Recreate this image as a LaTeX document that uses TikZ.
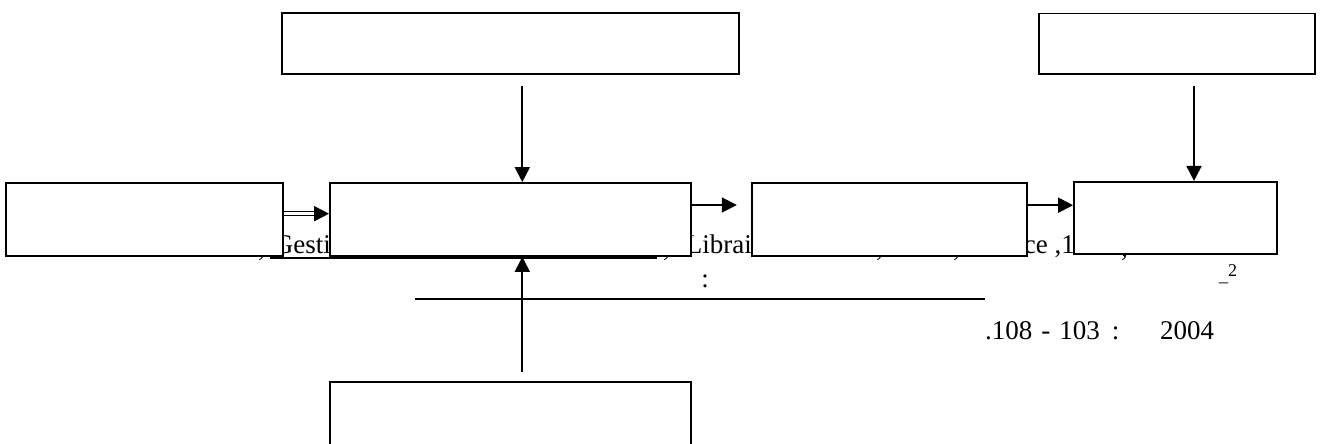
\documentclass[tikz,border=0pt]{standalone}
\usepackage{fontspec}
\setmainfont{Liberation Serif}
\usetikzlibrary{arrows.meta, calc, positioning}
\tikzset{
  % Graph arrow style
  garr/.style={
    line width = 1.8pt
  },
  % text left over behind the boxes
  frag/.style={
    inner sep=0pt
    , font=\fontsize{27}{31}\selectfont
  },
}
\tikzset{
  %box node style
  blk/.style={
    draw
    , fill=white
    , line width=1.8pt
    , anchor=center
    , inner sep=0pt
    %, rounded corners
  },
}
\begin{document}
\begin{tikzpicture}[x=1pt,y=1pt,>={Triangle[length=15pt,width=15pt]}]
      \clip (0,0) rectangle (1320,444);

      % text first, the boxes hide part of it
      \node[frag, anchor=base west] (c1) at (258,187.5) {,};
      \node[frag, anchor=base east] (ges) at (331,190.5) {Gesti};
      \draw[line width=2pt] (270,186) -- (657,186);
      \node[frag, anchor=base west] (c2) at (663,187.5) {,};
      \node[frag, anchor=base east] (lib) at (752,190.5) {Librai};
      \node[frag, anchor=base west] (c3) at (876,187.5) {,};
      \node[frag, anchor=base west] (c4) at (953,187.5) {,};
      \node[frag, anchor=base east] (fra) at (1075,190.5) {ce ,1};
      \node[frag, anchor=base west] (c5) at (1121,187.5) {,};
      \node[inner sep=0pt, anchor=base west, font=\fontsize{18}{20}\selectfont] (ref) at (1219,162) {\_\raisebox{5pt}{2}};
      \node[frag, anchor=base] (col) at (705,156) {:};
      \node[frag, anchor=base west] (pg) at (985,104) {.108\hspace{9pt}-\hspace{9pt}103\hspace{12pt}:};
      \node[frag, anchor=base west] (yr) at (1160,104) {2004};

      \node[blk, minimum width=360.7pt, minimum height=73pt] (ctr) at (510.3,224.5) {};
      \node[blk, minimum width=277.3pt, minimum height=73pt, left of=ctr, node distance=366pt] (lft) {};
      \node[blk, minimum width=275pt, minimum height=72.7pt, right of=ctr, node distance=378.9pt] (mid) {};
      \node[blk, minimum width=203pt, minimum height=72.3pt, right of=mid, node distance=286.3pt, yshift=1.5pt] (rgt) {};
      \node[blk, minimum width=457.3pt, minimum height=60.7pt, above of=ctr, node distance=175.8pt] (topa) {};
      \node[blk, minimum width=276pt, minimum height=60.7pt, above of=rgt, node distance=174.1pt, xshift=1.5pt] (topb) {};
      \node[blk, minimum width=361.4pt, minimum height=73pt, below of=ctr, node distance=199pt] (bot) {};

      \draw[garr] (415,145) -- (985,145);

      \draw[garr, double, double distance=2.6pt, line width=1.4pt, shorten >=14pt] ([yshift=5.8pt]lft.east) -- ([yshift=5.8pt]ctr.west);
      \draw[garr,->] ([xshift=-15pt,yshift=5.8pt]ctr.west) -- ([yshift=5.8pt]ctr.west);

      \draw[garr,->,shorten >=14pt] ([yshift=14.5pt]ctr.east) -- ([yshift=14.5pt]mid.west);
      \draw[garr,->] ([yshift=14.3pt]mid.east) -- ([yshift=14.3pt]mid.east -| rgt.west);

      \draw[garr,->] ([xshift=12pt,yshift=-11pt]topa.south) -- ([xshift=12pt]ctr.north);
      \draw[garr,->] ([xshift=17pt,yshift=-11pt]topb.south) -- ([xshift=18.5pt]rgt.north);
      \draw[garr,->] ([xshift=12pt,yshift=9pt]bot.north) -- ([xshift=12pt]ctr.south);
    \end{tikzpicture}
\end{document}
